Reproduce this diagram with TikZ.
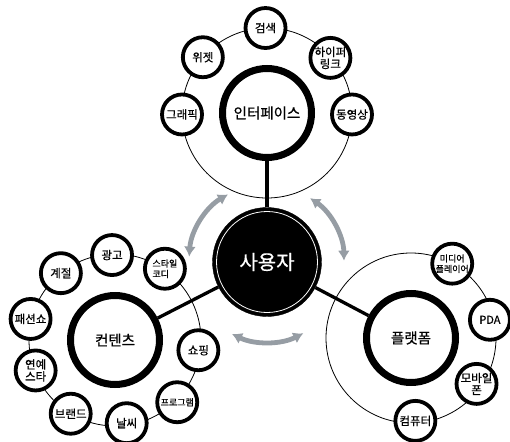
\documentclass[tikz,border=0pt]{standalone}
\usepackage{fontspec}
\setmainfont{Noto Sans CJK KR}[UprightFeatures={FakeBold=0.6}]
\usepackage{tikz}
\usetikzlibrary{arrows.meta,calc,positioning}
\definecolor{arrowgray}{RGB}{150,157,164}
\tikzstyle{sat}=[circle,draw,line width=3.8pt,fill=white,minimum size=40pt,
  inner sep=0pt,align=center,font=\fontsize{11.5}{12}\selectfont]
\tikzstyle{small}=[font=\fontsize{9}{10.5}\selectfont]
\tikzstyle{hub}=[circle,draw,line width=7pt,fill=white,minimum size=89pt,
  inner sep=0pt,font=\fontsize{14.5}{16}\selectfont]
\tikzstyle{orbit}=[line width=0.8pt]
\tikzstyle{link}=[line width=3.3pt]
\tikzstyle{turn}=[draw=arrowgray,line width=4.8pt,
  {Latex[length=10pt,width=12pt]}-{Latex[length=10pt,width=12pt]}]

\begin{document}
\begin{tikzpicture}[x=1pt,y=1pt]
  \useasboundingbox (0,0) rectangle (510,-441);
  \coordinate (ic) at (267,-113);
  \coordinate (cc) at (115,-340);
  \coordinate (pc) at (411,-338);
  \draw[orbit] (ic) circle[radius=85];
  \draw[orbit] (cc) circle[radius=86];
  \draw[orbit] (pc) circle[radius=85];

  \node[circle,fill=black,draw=black,minimum size=109pt,inner sep=0pt]
    (user) at (267,-262) {};
  \draw[white,line width=0.8pt] (user.center) circle[radius=50.5];
  \node[white,font=\fontsize{20}{22}\selectfont] at (user.center) {사용자};

  \node[hub] (iface) at (ic) {인터페이스};
  \node[hub] (contents) at (cc) {컨텐츠};
  \node[hub] (platform) at (pc) {플랫폼};
  \draw[link] (iface) -- (user);
  \draw[link] (contents) -- (user);
  \draw[link] (platform) -- (user);

  \node[sat] (graphic) at ($(ic)+(181:85)$) {그래픽};
  \node[sat] (widget) at ($(ic)+(139:85)$) {위젯};
  \node[sat] (search) at ($(ic)+(91:85)$) {검색};
  \node[sat] (hyper) at ($(ic)+(41:84)$) {하이퍼\\링크};
  \node[sat] (video) at ($(ic)+(-1:85)$) {동영상};

  \node[sat] (ad) at ($(cc)+(92:85)$) {광고};
  \node[sat] (season) at ($(cc)+(129:86)$) {계절};
  \node[sat] (fashion) at ($(cc)+(166:87)$) {패션쇼};
  \node[sat] (star) at ($(cc)+(201:85)$) {연예\\스타};
  \node[sat] (brand) at ($(cc)+(239:86)$) {브랜드};
  \node[sat] (weather) at ($(cc)+(278:84)$) {날씨};
  \node[sat,small] (program) at ($(cc)+(315:88)$) {프로그램};
  \node[sat] (shopping) at ($(cc)+(353:84)$) {쇼핑};
  \node[sat,small,align=left] (style) at ($(cc)+(55:87)$) {스타일\\코디};

  \node[sat,small] (player) at ($(pc)+(61:85)$) {미디어\\플레이어};
  \node[sat,font=\fontsize{11}{11}\selectfont] (pda) at ($(pc)+(13:81)$) {PDA};
  \node[sat] (mobile) at ($(pc)+(-35:80)$) {모바일\\폰};
  \node[sat] (computer) at ($(pc)+(-87:83)$) {컴퓨터};

  \draw[turn] ([shift={(176:78)}]user.center) arc[start angle=176,end angle=120,radius=78];
  \draw[turn] ([shift={(56:77)}]user.center) arc[start angle=56,end angle=1,radius=77];
  \draw[turn] ([shift={(244:80)}]user.center) arc[start angle=244,end angle=297,radius=80];
\end{tikzpicture}
\end{document}
